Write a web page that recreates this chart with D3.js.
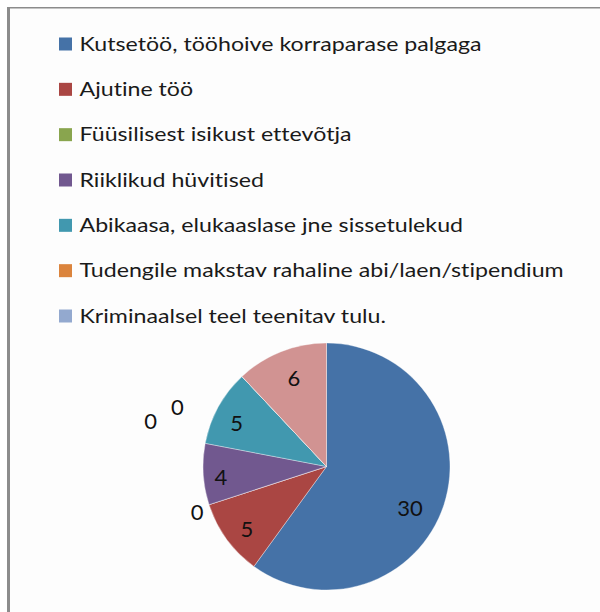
<!DOCTYPE html>
<html>
<head>
<meta charset="utf-8">
<script src="https://cdn.jsdelivr.net/npm/d3@7/dist/d3.min.js"></script>
<style>
  html, body { margin: 0; padding: 0; background: #ffffff; }
  svg { display: block; }
  text { font-variant-ligatures: none; font-feature-settings: "liga" 0, "clig" 0; }
</style>
</head>
<body>
<svg id="chart" width="600" height="612"></svg>
<script>
// ---- data ----
const categories = [
  "Kutsetöö, tööhoive korraparase palgaga",
  "Ajutine töö",
  "Füüsilisest isikust ettevõtja",
  "Riiklikud hüvitised",
  "Abikaasa, elukaaslase jne sissetulekud",
  "Tudengile makstav rahaline abi/laen/stipendium",
  "Kriminaalsel teel teenitav tulu.",
  "Muu"
];
const values = [30, 5, 0, 4, 5, 0, 0, 6];
const colors = ["#4572A7", "#AA4643", "#89A54E", "#71588F", "#4198AF", "#DB843D", "#93A9CF", "#D19392"];
const legendCount = 7; // legend is clipped after the 7th entry

// label placement: [radius factor of pie radius, angle offset in degrees]
const labelLayout = [
  [0.755, 8.4], [0.82, -2.2], [1.11, -1.2], [0.86, -2.1],
  [0.81, -2.8], [1.30, -25], [1.47, -32.3], [0.765, 1.4]
];

// ---- drawing ----
const svg = d3.select("#chart");
const W = 600, H = 612;

// frame background & border
svg.append("rect").attr("x", 9).attr("y", 8).attr("width", W - 9).attr("height", H - 8).attr("fill", "#fdfdfd");
svg.append("line").attr("x1", 7).attr("x2", W).attr("y1", 7.75).attr("y2", 7.75)
  .attr("stroke", "#8c8c8c").attr("stroke-width", 1.5);
svg.append("line").attr("x1", 8.5).attr("x2", 8.5).attr("y1", 7).attr("y2", H)
  .attr("stroke", "#8c8c8c").attr("stroke-width", 3);

const fontFamily = "Lato, 'Open Sans', 'DejaVu Sans', sans-serif";

// legend
const legend = svg.append("g");
const legendY = d3.scaleLinear().domain([0, legendCount - 1]).range([50.5, 322.5]);
const items = legend.selectAll("g.item").data(categories.slice(0, legendCount)).join("g")
  .attr("class", "item")
  .attr("transform", (d, i) => `translate(0,${legendY(i)})`);
items.append("rect")
  .attr("x", 59).attr("y", -13).attr("width", 13).attr("height", 13)
  .attr("fill", (d, i) => colors[i]);
const texts = items.append("text")
  .attr("x", 0).attr("y", 0)
  .attr("font-family", fontFamily)
  .attr("font-size", 18.5)
  .attr("fill", "#1a1a1a")
  .text(d => d);
// fit horizontal scale to reference width of the first entry
const firstLen = texts.nodes()[0].getComputedTextLength();
const sx = 402 / firstLen;
texts.attr("transform", `translate(79.5,0) scale(${sx},1)`);

// pie
const cx = 326.5, cy = 466.5, r = 123.5;
const pie = d3.pie().sort(null).value(d => d)(values);
const arc = d3.arc().innerRadius(0).outerRadius(r);
const g = svg.append("g").attr("transform", `translate(${cx},${cy})`);
g.selectAll("path").data(pie).join("path")
  .attr("d", arc)
  .attr("fill", (d, i) => colors[i])
  .attr("stroke", "#ffffff")
  .attr("stroke-opacity", 0.35)
  .attr("stroke-width", 1);

g.selectAll("text").data(pie).join("text")
  .attr("transform", (d, i) => {
    const a = (d.startAngle + d.endAngle) / 2 + labelLayout[i][1] * Math.PI / 180;
    const rr = r * labelLayout[i][0];
    return `translate(${rr * Math.sin(a)},${-rr * Math.cos(a)})`;
  })
  .attr("text-anchor", "middle")
  .attr("dy", "0.36em")
  .attr("font-family", fontFamily)
  .attr("font-size", 22)
  .attr("fill", "#111111")
  .text(d => d.value);
</script>
</body>
</html>
